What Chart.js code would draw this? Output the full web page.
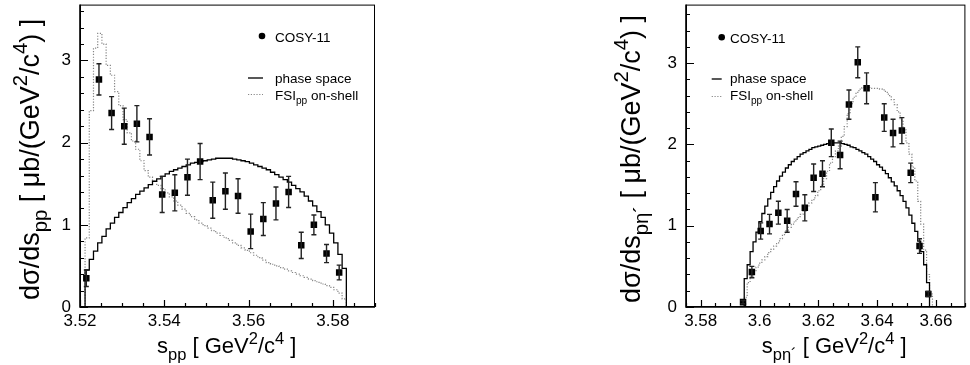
<!DOCTYPE html>
<html><head><meta charset="utf-8">
<script src="https://cdn.jsdelivr.net/npm/chart.js@4.4.1/dist/chart.umd.min.js"></script>
<style>
html,body{margin:0;padding:0;background:#fff;}
body{width:970px;height:365px;position:relative;overflow:hidden;}
canvas{position:absolute;top:0;}
#c1{left:0;} #c2{left:600px;}
</style></head><body>
<canvas id="c1" width="400" height="365"></canvas>
<canvas id="c2" width="370" height="365"></canvas>
<script>
// ---------- LEFT PANEL DATA (s_pp) ----------
const leftXTicks = [3.52, 3.54, 3.56, 3.58];
const leftXLabels = ['3.52', '3.54', '3.56', '3.58'];
const leftYTicks = [0, 1, 2, 3];
const leftYLabels = ['0', '1', '2', '3'];
const leftX = [3.5215, 3.5245, 3.5275, 3.5305, 3.5335, 3.5365, 3.5395, 3.5425, 3.5455, 3.5485, 3.5515,
               3.5545, 3.5575, 3.5605, 3.5635, 3.5665, 3.5695, 3.5725, 3.5755, 3.5785, 3.5815];
const leftY = [0.35, 2.77, 2.36, 2.20, 2.23, 2.07, 1.37, 1.39, 1.58, 1.77, 1.30,
               1.41, 1.35, 0.92, 1.07, 1.26, 1.40, 0.75, 1.00, 0.65, 0.42];
const leftErr = [0.10, 0.19, 0.20, 0.22, 0.22, 0.22, 0.22, 0.22, 0.22, 0.22, 0.22,
                 0.22, 0.21, 0.21, 0.20, 0.20, 0.19, 0.16, 0.12, 0.11, 0.09];
const leftBinStart = 3.5212;
const leftBinWidth = 0.001;
const leftPhaseSpace = [0.45,0.58,0.68,0.78,0.86,0.95,1.02,1.09,1.15,1.21,
  1.27,1.32,1.37,1.41,1.45,1.49,1.53,1.56,1.59,1.62,
  1.65,1.67,1.69,1.71,1.73,1.75,1.76,1.77,1.78,1.79,
  1.80,1.81,1.81,1.81,1.81,1.80,1.79,1.78,1.77,1.75,
  1.73,1.71,1.69,1.67,1.64,1.61,1.58,1.55,1.52,1.48,
  1.44,1.40,1.35,1.29,1.23,1.16,1.09,1.00,0.90,0.78,
  0.64,0.47];
const leftFSI = [0.84,2.39,3.15,3.33,3.20,2.94,2.82,2.62,2.45,2.28,
  2.12,2.02,1.92,1.78,1.66,1.58,1.53,1.48,1.44,1.39,
  1.34,1.29,1.24,1.19,1.14,1.10,1.06,1.02,0.99,0.96,
  0.93,0.90,0.87,0.84,0.81,0.78,0.75,0.72,0.69,0.66,
  0.63,0.60,0.57,0.54,0.52,0.50,0.48,0.46,0.44,0.42,
  0.40,0.38,0.36,0.34,0.32,0.30,0.28,0.26,0.24,0.21,
  0.17,0.10];

// ---------- RIGHT PANEL DATA (s_p eta') ----------
const rightXTicks = [3.58, 3.60, 3.62, 3.64, 3.66];
const rightXLabels = ['3.58', '3.6', '3.62', '3.64', '3.66'];
const rightYTicks = [0, 1, 2, 3];
const rightYLabels = ['0', '1', '2', '3'];
const rightX = [3.5944, 3.5974, 3.6004, 3.6034, 3.6064, 3.6094, 3.6124, 3.6154, 3.6184, 3.6214, 3.6244,
                3.6274, 3.6304, 3.6334, 3.6364, 3.6394, 3.6424, 3.6454, 3.6484, 3.6514, 3.6544, 3.6574];
const rightY = [0.06, 0.43, 0.935, 1.02, 1.16, 1.06, 1.39, 1.22, 1.59, 1.64, 2.02,
                1.87, 2.49, 3.01, 2.69, 1.35, 2.33, 2.14, 2.17, 1.65, 0.75, 0.16];
const rightErr = [0.02, 0.07, 0.10, 0.12, 0.14, 0.14, 0.15, 0.16, 0.17, 0.16, 0.17,
                  0.17, 0.18, 0.19, 0.19, 0.18, 0.17, 0.17, 0.16, 0.12, 0.09, 0.03];
const rightBinStart = 3.5948;
const rightBinWidth = 0.001;
const rightPhaseSpace = [0.35,0.52,0.68,0.80,0.92,1.05,1.15,1.24,1.33,1.41,
  1.48,1.55,1.61,1.66,1.71,1.75,1.79,1.82,1.85,1.88,
  1.90,1.92,1.94,1.96,1.97,1.98,1.99,2.00,2.01,2.02,
  2.02,2.02,2.02,2.01,2.00,1.99,1.97,1.96,1.94,1.92,
  1.90,1.88,1.85,1.82,1.79,1.75,1.72,1.68,1.64,1.59,
  1.54,1.49,1.43,1.37,1.30,1.22,1.13,1.03,0.93,0.81,
  0.68,0.52,0.30];
const rightFSI = [0.12,0.30,0.38,0.44,0.49,0.54,0.58,0.62,0.67,0.71,
  0.75,0.79,0.84,0.89,0.94,0.98,1.02,1.06,1.10,1.14,
  1.18,1.23,1.28,1.32,1.37,1.43,1.50,1.58,1.67,1.77,
  1.85,1.92,1.98,2.10,2.22,2.38,2.50,2.58,2.64,2.68,
  2.70,2.70,2.70,2.69,2.69,2.69,2.68,2.67,2.64,2.60,
  2.55,2.49,2.40,2.30,2.18,2.02,1.88,1.72,1.55,1.30,
  1.02,0.70,0.40,0.16];

// ---------- helpers ----------
const FONT = '"Liberation Sans", Arial, Helvetica, sans-serif';

function histPoints(start, width, vals) {
  const pts = [{x: start, y: 0}];
  vals.forEach((v, k) => pts.push({x: start + k * width, y: v}));
  pts.push({x: start + vals.length * width, y: 0});
  return pts;
}

function drawRich(ctx, parts, x, y, size, rot) {
  ctx.save();
  ctx.translate(x, y);
  ctx.rotate(rot);
  ctx.fillStyle = '#000';
  ctx.textBaseline = 'alphabetic';
  ctx.textAlign = 'left';
  let cx = 0;
  for (const p of parts) {
    const s = p.s ? size * 0.75 : size;
    ctx.font = s + 'px ' + FONT;
    const dy = p.s === 'sub' ? size * 0.3 : (p.s === 'sup' ? -size * 0.42 : 0);
    ctx.fillText(p.t, cx, dy);
    cx += ctx.measureText(p.t).width;
  }
  ctx.restore();
}

const decorPlugin = {
  id: 'decor',
  afterDatasetsDraw(chart) {
    const d = chart.options.plugins.decor;
    const ctx = chart.ctx;
    const xs = chart.scales.x, ys = chart.scales.y;
    ctx.save();
    ctx.strokeStyle = '#222';
    ctx.lineWidth = 1.4;
    d.ex.forEach((xv, i) => {
      const px = xs.getPixelForValue(xv);
      const p1 = ys.getPixelForValue(d.ey[i] - d.err[i]);
      const p2 = ys.getPixelForValue(d.ey[i] + d.err[i]);
      ctx.beginPath();
      ctx.moveTo(px, p1); ctx.lineTo(px, p2);
      ctx.moveTo(px - 2.5, p1); ctx.lineTo(px + 2.5, p1);
      ctx.moveTo(px - 2.5, p2); ctx.lineTo(px + 2.5, p2);
      ctx.stroke();
    });
    ctx.restore();
  },
  afterDraw(chart) {
    const d = chart.options.plugins.decor;
    const ctx = chart.ctx;
    const a = chart.chartArea;
    const xs = chart.scales.x, ys = chart.scales.y;
    ctx.save();
    ctx.strokeStyle = '#000';
    ctx.lineWidth = 1;
    ctx.strokeRect(a.left + 0.5, a.top + 0.5, a.right - a.left - 1, a.bottom - a.top - 1);
    ctx.lineWidth = 1.6;
    ctx.beginPath();
    ctx.moveTo(a.left, a.top); ctx.lineTo(a.left, a.bottom); ctx.lineTo(a.right, a.bottom);
    ctx.stroke();
    ctx.lineWidth = 1.2;
    ctx.beginPath();
    const xi0 = Math.ceil(xs.min / d.xMinor - 1e-6), xi1 = Math.floor(xs.max / d.xMinor + 1e-6);
    for (let i = xi0; i <= xi1; i++) {
      const v = i * d.xMinor;
      const major = Math.abs(Math.round(v / d.xMajor) * d.xMajor - v) < 1e-6;
      const px = Math.round(xs.getPixelForValue(v)) + 0.5;
      ctx.moveTo(px, a.bottom); ctx.lineTo(px, a.bottom - (major ? 7 : 4));
    }
    const yi0 = Math.ceil(ys.min / d.yMinor - 1e-6), yi1 = Math.floor(ys.max / d.yMinor + 1e-6);
    for (let i = yi0; i <= yi1; i++) {
      const v = i * d.yMinor;
      const major = Math.abs(Math.round(v) - v) < 1e-6;
      const py = Math.round(ys.getPixelForValue(v)) + 0.5;
      ctx.moveTo(a.left, py); ctx.lineTo(a.left + (major ? 8 : 4), py);
    }
    ctx.stroke();
    ctx.restore();
    drawRich(ctx, d.xTitle, d.xTitlePos[0], d.xTitlePos[1], 22, 0);
    drawRich(ctx, d.yTitle, d.yTitlePos[0], d.yTitlePos[1], 27, -Math.PI / 2);
    const L = d.legend;
    ctx.save();
    ctx.fillStyle = '#000';
    ctx.beginPath();
    ctx.arc(L.dot[0], L.dot[1], 3.3, 0, Math.PI * 2);
    ctx.fill();
    ctx.strokeStyle = '#111';
    ctx.lineWidth = 1.4;
    ctx.beginPath();
    ctx.moveTo(L.line[0], L.line[2]); ctx.lineTo(L.line[1], L.line[2]);
    ctx.stroke();
    ctx.strokeStyle = '#888';
    ctx.lineWidth = 1.2;
    ctx.setLineDash([1.2, 1.6]);
    ctx.beginPath();
    ctx.moveTo(L.line[0], L.line[3]); ctx.lineTo(L.line[1], L.line[3]);
    ctx.stroke();
    ctx.restore();
    drawRich(ctx, [{t: 'COSY-11'}], L.tx, L.base[0], 13.5, 0);
    drawRich(ctx, [{t: 'phase space'}], L.tx, L.base[1], 13.5, 0);
    drawRich(ctx, [{t: 'FSI'}, {t: 'pp', s: 'sub'}, {t: ' on-shell'}], L.tx, L.base[2], 13.5, 0);
  }
};

function zeroPad(s) {
  s.paddingTop = 0; s.paddingBottom = 0; s.paddingLeft = 0; s.paddingRight = 0;
}

function makeChart(id, cfg) {
  return new Chart(document.getElementById(id), {
    type: 'line',
    data: {
      datasets: [
        {
          label: 'phase space',
          data: histPoints(cfg.binStart, cfg.binWidth, cfg.ps),
          stepped: 'before', borderColor: '#000', borderWidth: 1.3,
          pointRadius: 0, fill: false, order: 2
        },
        {
          label: 'FSI pp on-shell',
          data: histPoints(cfg.binStart, cfg.binWidth, cfg.fsi),
          stepped: 'before', borderColor: '#858585', borderWidth: 1.2, borderDash: [1.2, 1.6],
          pointRadius: 0, fill: false, order: 3
        },
        {
          label: 'COSY-11',
          data: cfg.px.map((x, i) => ({x: x, y: cfg.py[i]})),
          showLine: false, pointStyle: 'rect', pointRadius: 4.6,
          backgroundColor: '#000', borderColor: '#000', borderWidth: 0, order: 1
        }
      ]
    },
    options: {
      responsive: false, animation: false, devicePixelRatio: 1,
      layout: {padding: {top: 4, right: cfg.padRight, left: 0, bottom: 0}},
      plugins: {
        legend: {display: false}, tooltip: {enabled: false},
        decor: cfg.decor
      },
      scales: {
        x: {
          type: 'linear', min: cfg.xMin, max: cfg.xMax,
          grid: {display: false, drawTicks: false}, border: {display: false},
          ticks: {font: {family: FONT, size: 17}, color: '#000', padding: 4, autoSkip: false, maxRotation: 0,
                  callback: (v, i) => cfg.xLabels[i]},
          afterBuildTicks: s => { s.ticks = cfg.xTicks.map(v => ({value: v})); },
          afterFit: s => { s.height = 58; zeroPad(s); }
        },
        y: {
          type: 'linear', min: 0, max: cfg.yMax,
          grid: {display: false, drawTicks: false}, border: {display: false},
          ticks: {font: {family: FONT, size: 17}, color: '#000', padding: 9, autoSkip: false,
                  callback: (v, i) => cfg.yLabels[i]},
          afterBuildTicks: s => { s.ticks = cfg.yTicks.map(v => ({value: v})); },
          afterFit: s => { s.width = cfg.yWidth; zeroPad(s); }
        }
      }
    },
    plugins: [decorPlugin]
  });
}

makeChart('c1', {
  binStart: leftBinStart, binWidth: leftBinWidth, ps: leftPhaseSpace, fsi: leftFSI,
  px: leftX, py: leftY, xMin: 3.52, xMax: 3.59, yMax: 3.68,
  xTicks: leftXTicks, xLabels: leftXLabels, yTicks: leftYTicks, yLabels: leftYLabels,
  padRight: 25, yWidth: 80,
  decor: {
    ex: leftX, ey: leftY, err: leftErr, xMinor: 0.005, xMajor: 0.02, yMinor: 0.2,
    xTitle: [{t: 's'}, {t: 'pp', s: 'sub'}, {t: ' [ GeV'}, {t: '2', s: 'sup'}, {t: '/c'}, {t: '4', s: 'sup'}, {t: ' ]'}],
    xTitlePos: [157, 353],
    yTitle: [{t: 'dσ/ds'}, {t: 'pp', s: 'sub'}, {t: ' [ μb/(GeV'}, {t: '2', s: 'sup'}, {t: '/c'}, {t: '4', s: 'sup'}, {t: ') ]'}],
    yTitlePos: [38.5, 300],
    legend: {dot: [262, 36], tx: 275, base: [41.5, 82.5, 99.5], line: [248, 263, 78, 94.5]}
  }
});

makeChart('c2', {
  binStart: rightBinStart, binWidth: rightBinWidth, ps: rightPhaseSpace, fsi: rightFSI,
  px: rightX, py: rightY, xMin: 3.575, xMax: 3.67, yMax: 3.72,
  xTicks: rightXTicks, xLabels: rightXLabels, yTicks: rightYTicks, yLabels: rightYLabels,
  padRight: 3, yWidth: 86,
  decor: {
    ex: rightX, ey: rightY, err: rightErr, xMinor: 0.005, xMajor: 0.02, yMinor: 0.2,
    xTitle: [{t: 's'}, {t: 'pη´', s: 'sub'}, {t: ' [ GeV'}, {t: '2', s: 'sup'}, {t: '/c'}, {t: '4', s: 'sup'}, {t: ' ]'}],
    xTitlePos: [161.7, 353],
    yTitle: [{t: 'dσ/ds'}, {t: 'pη´', s: 'sub'}, {t: ' [ μb/(GeV'}, {t: '2', s: 'sup'}, {t: '/c'}, {t: '4', s: 'sup'}, {t: ') ]'}],
    yTitlePos: [39.5, 303],
    legend: {dot: [121.7, 37.3], tx: 130, base: [42.5, 83, 100], line: [111.7, 121.7, 79, 96.5]}
  }
});
</script>
</body></html>
